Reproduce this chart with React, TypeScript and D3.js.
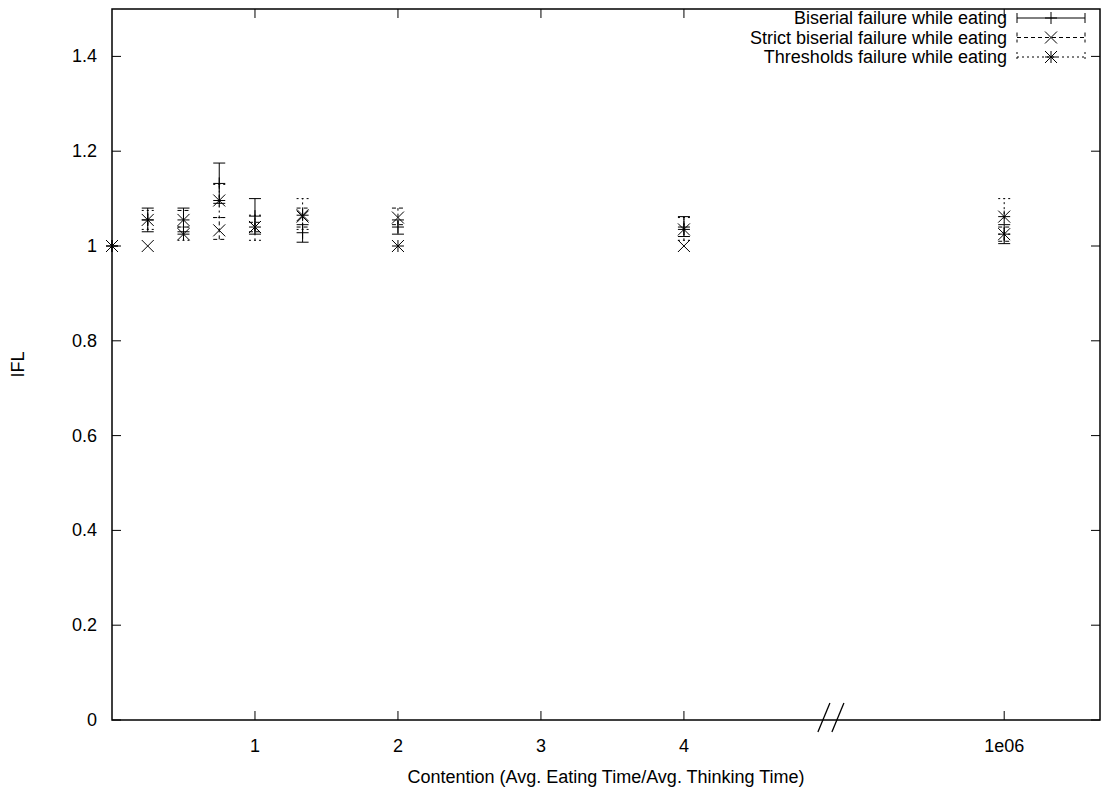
import React from "react";
import * as d3 from "d3";

// contention values (last one sits past the axis break)
const contention = [0, 0.25, 0.5, 0.75, 1, 1.333, 2, 4, 1e6];

const biserial = [1.0, 1.055, 1.055, 1.132, 1.063, 1.028, 1.04, 1.04, 1.025];
const biserialLow = [1.0, 1.03, 1.03, 1.09, 1.025, 1.008, 1.025, 1.02, 1.005];
const biserialHigh = [1.0, 1.08, 1.08, 1.175, 1.1, 1.045, 1.055, 1.062, 1.045];

const strict = [1.0, 1.0, 1.055, 1.033, 1.04, 1.062, 1.06, 1.0, 1.025];
const strictLow = [1.0, 1.0, 1.04, 1.014, 1.03, 1.04, 1.045, 1.0, 1.01];
const strictHigh = [1.0, 1.0, 1.075, 1.06, 1.05, 1.08, 1.08, 1.0, 1.04];

const thresholds = [1.0, 1.055, 1.025, 1.096, 1.04, 1.065, 1.0, 1.035, 1.062];
const thresholdsLow = [1.0, 1.035, 1.012, 1.06, 1.012, 1.035, 1.0, 1.012, 1.025];
const thresholdsHigh = [1.0, 1.075, 1.04, 1.13, 1.065, 1.1, 1.0, 1.06, 1.1];

const xTicks = [1, 2, 3, 4, 1e6];
const xTickLabels = ["1", "2", "3", "4", "1e06"];
const yTicks = [0, 0.2, 0.4, 0.6, 0.8, 1, 1.2, 1.4];
const seriesNames = [
  "Biserial failure while eating",
  "Strict biserial failure while eating",
  "Thresholds failure while eating",
];

const W = 1113;
const H = 796;
const left = 112;
const right = 1100;
const top = 9;
const bottom = 720;
const font = "'Liberation Sans', Arial, Helvetica, sans-serif";

// broken axis: huge values are drawn just after the break
const BREAK_AT = 5;
const toAxis = (v: number) => (v > 100 ? 6.24 : v);

const x = d3.scaleLinear().domain([0, 6.91]).range([left, right]);
const y = d3.scaleLinear().domain([0, 1.5]).range([bottom, top]);
const px = (v: number) => x(toAxis(v));

type Series = { name: string; vals: number[]; lo: number[]; hi: number[]; dash: string; marker: string };
const series: Series[] = [
  { name: seriesNames[0], vals: biserial, lo: biserialLow, hi: biserialHigh, dash: "none", marker: "plus" },
  { name: seriesNames[1], vals: strict, lo: strictLow, hi: strictHigh, dash: "4,3", marker: "cross" },
  { name: seriesNames[2], vals: thresholds, lo: thresholdsLow, hi: thresholdsHigh, dash: "2,3", marker: "star" },
];

const Marker = ({ cx, cy, kind }: { cx: number; cy: number; kind: string }) => {
  const s = 6;
  const plus = `M${cx - s},${cy}H${cx + s}M${cx},${cy - s}V${cy + s}`;
  const cross = `M${cx - s},${cy - s}L${cx + s},${cy + s}M${cx - s},${cy + s}L${cx + s},${cy - s}`;
  const d = kind === "plus" ? plus : kind === "cross" ? cross : plus + cross;
  return <path d={d} stroke="#000" strokeWidth={1} fill="none" />;
};

export default function App() {
  const tick = 9;
  return (
    <svg width={W} height={H} style={{ position: "absolute", left: 0, top: 0, background: "#fff" }} fontFamily={font}>
      {/* frame */}
      <rect x={left} y={top} width={right - left} height={bottom - top} fill="none" stroke="#000" strokeWidth={1.5} />

      {/* y ticks */}
      {yTicks.map((t) => (
        <g key={"y" + t}>
          <line x1={left} x2={left + tick} y1={y(t)} y2={y(t)} stroke="#000" />
          <line x1={right} x2={right - tick} y1={y(t)} y2={y(t)} stroke="#000" />
          <text x={left - 15} y={y(t) + 6} textAnchor="end" fontSize={18}>
            {d3.format("~g")(t)}
          </text>
        </g>
      ))}

      {/* x ticks */}
      {xTicks.map((t, i) => (
        <g key={"x" + t}>
          <line x1={px(t)} x2={px(t)} y1={bottom} y2={bottom - tick} stroke="#000" />
          <line x1={px(t)} x2={px(t)} y1={top} y2={top + tick} stroke="#000" />
          <text x={px(t)} y={bottom + 32} textAnchor="middle" fontSize={18}>
            {xTickLabels[i]}
          </text>
        </g>
      ))}

      {/* axis break */}
      {[0, 14].map((o) => (
        <line
          key={"br" + o}
          x1={x(BREAK_AT) - 9 + o}
          y1={bottom + 12}
          x2={x(BREAK_AT) + 3 + o}
          y2={bottom - 17}
          stroke="#000"
          strokeWidth={1.3}
        />
      ))}

      {/* error bars */}
      {series.map((s) =>
        contention.map((c, i) => {
          const cx = px(c);
          const y0 = y(s.lo[i]);
          const y1 = y(s.hi[i]);
          if (s.hi[i] === s.lo[i]) return null;
          return (
            <g key={s.name + i} stroke="#000" strokeWidth={1} strokeDasharray={s.dash}>
              <line x1={cx} x2={cx} y1={y0} y2={y1} />
              <line x1={cx - 6} x2={cx + 6} y1={y0} y2={y0} />
              <line x1={cx - 6} x2={cx + 6} y1={y1} y2={y1} />
            </g>
          );
        })
      )}

      {/* markers */}
      {series.map((s) =>
        contention.map((c, i) => <Marker key={s.name + "m" + i} cx={px(c)} cy={y(s.vals[i])} kind={s.marker} />)
      )}

      {/* legend */}
      {series.map((s, i) => {
        const ly = 18 + i * 19.5;
        const x0 = 1017;
        const x1 = 1085;
        return (
          <g key={"leg" + i}>
            <text x={1007} y={ly + 6} textAnchor="end" fontSize={18}>
              {s.name}
            </text>
            <g stroke="#000" strokeWidth={1} strokeDasharray={s.dash}>
              <line x1={x0} x2={x1} y1={ly} y2={ly} />
              <line x1={x0} x2={x0} y1={ly - 5} y2={ly + 5} />
              <line x1={x1} x2={x1} y1={ly - 5} y2={ly + 5} />
            </g>
            <Marker cx={(x0 + x1) / 2} cy={ly} kind={s.marker} />
          </g>
        );
      })}

      {/* axis labels */}
      <text x={(left + right) / 2} y={783} textAnchor="middle" fontSize={18}>
        Contention (Avg. Eating Time/Avg. Thinking Time)
      </text>
      <text transform={`translate(24,${(top + bottom) / 2}) rotate(-90)`} textAnchor="middle" fontSize={18}>
        IFL
      </text>
    </svg>
  );
}
